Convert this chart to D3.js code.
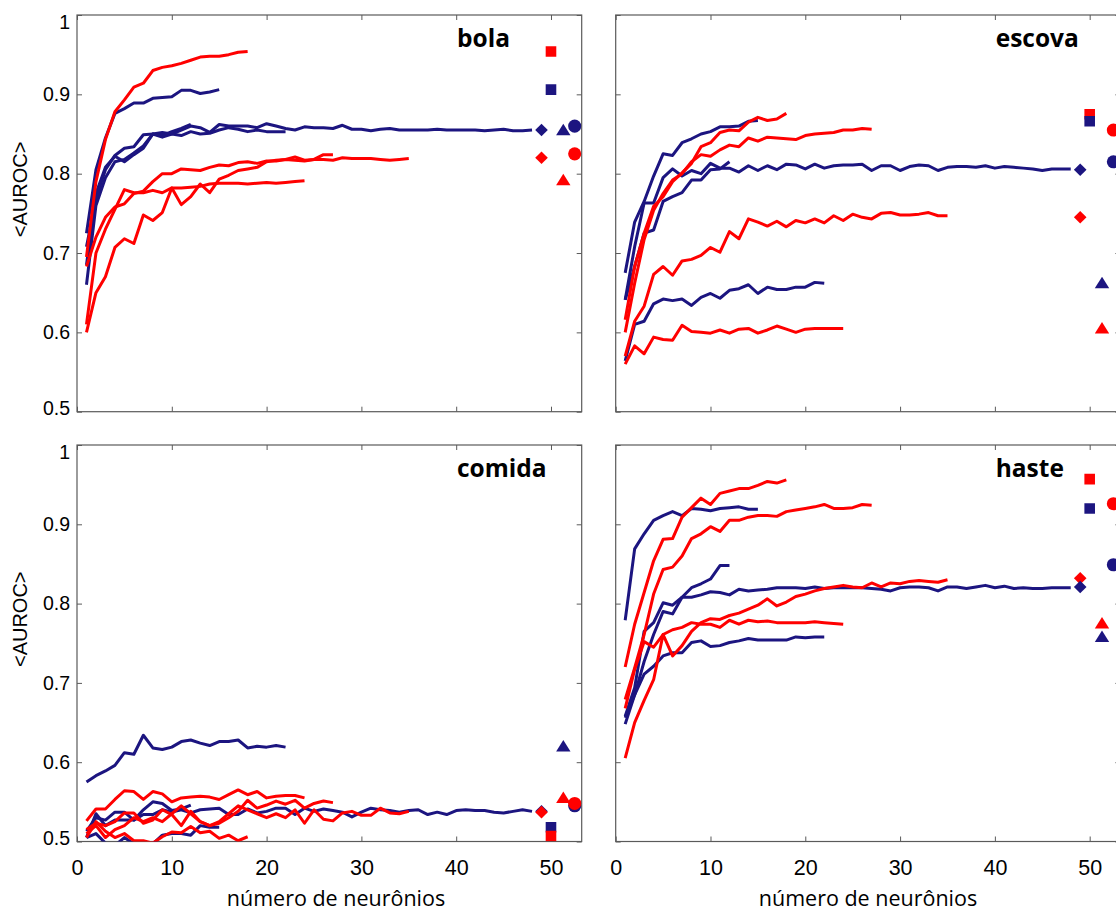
<!DOCTYPE html>
<html>
<head>
<meta charset="utf-8">
<script src="https://cdn.jsdelivr.net/npm/d3@7"></script>
<style>
  html, body { margin: 0; padding: 0; background: #ffffff; }
  svg { display: block; }
</style>
</head>
<body>
<svg id="chart" width="1116" height="913"></svg>
<script>
// ---------------- DATA ----------------
const panelNames = ["bola", "escova", "comida", "haste"];
const xTicks = [0, 10, 20, 30, 40, 50];
const yTicks = [0.5, 0.6, 0.7, 0.8, 0.9, 1];
const xTitle = "número de neurônios";
const yTitle = "<AUROC>";

// marker order: diamond, square, triangle, circle
const markerShapes = ["diamond", "square", "triangle", "circle"];
const markerX = [49, 50, 51.3, 52.5];

// bola
const bolaBlue12 = [0.708, 0.768, 0.805, 0.823, 0.832, 0.834, 0.849, 0.850, 0.848, 0.853, 0.857, 0.862];
const bolaBlue15 = [0.725, 0.805, 0.845, 0.876, 0.882, 0.889, 0.889, 0.895, 0.896, 0.897, 0.905, 0.905, 0.901, 0.903, 0.906];
const bolaBlue22 = [0.660, 0.760, 0.795, 0.815, 0.818, 0.826, 0.835, 0.850, 0.852, 0.850, 0.848, 0.853, 0.850, 0.851, 0.855, 0.858, 0.856, 0.853, 0.855, 0.853, 0.853, 0.853];
const bolaBlue48 = [0.685, 0.775, 0.808, 0.822, 0.815, 0.824, 0.832, 0.850, 0.846, 0.850, 0.855, 0.860, 0.858, 0.852, 0.862, 0.860, 0.860, 0.860, 0.858, 0.863, 0.860, 0.857, 0.855, 0.859, 0.858, 0.858, 0.857, 0.861, 0.856, 0.856, 0.854, 0.856, 0.857, 0.855, 0.855, 0.855, 0.855, 0.856, 0.855, 0.855, 0.855, 0.855, 0.854, 0.855, 0.856, 0.854, 0.854, 0.855];
const bolaRed18 = [0.695, 0.790, 0.843, 0.878, 0.893, 0.909, 0.914, 0.930, 0.934, 0.936, 0.939, 0.943, 0.947, 0.948, 0.948, 0.950, 0.953, 0.954];
const bolaRed24 = [0.610, 0.700, 0.730, 0.755, 0.780, 0.776, 0.776, 0.779, 0.776, 0.782, 0.782, 0.783, 0.784, 0.787, 0.788, 0.788, 0.788, 0.787, 0.788, 0.789, 0.788, 0.789, 0.790, 0.791];
const bolaRed27 = [0.600, 0.650, 0.670, 0.707, 0.718, 0.712, 0.748, 0.741, 0.751, 0.782, 0.761, 0.771, 0.787, 0.776, 0.793, 0.798, 0.804, 0.806, 0.808, 0.815, 0.817, 0.818, 0.821, 0.817, 0.818, 0.824, 0.824];
const bolaRed35 = [0.683, 0.720, 0.745, 0.758, 0.762, 0.775, 0.778, 0.790, 0.800, 0.800, 0.806, 0.805, 0.804, 0.808, 0.811, 0.810, 0.814, 0.815, 0.813, 0.816, 0.816, 0.818, 0.817, 0.816, 0.818, 0.818, 0.817, 0.820, 0.819, 0.819, 0.819, 0.818, 0.817, 0.818, 0.819];
const bolaBlueMarks = [0.855, 0.906, 0.855, 0.860];
const bolaRedMarks = [0.820, 0.954, 0.792, 0.825];

// escova
const escovaBlue12 = [0.641, 0.683, 0.725, 0.729, 0.765, 0.771, 0.776, 0.792, 0.792, 0.805, 0.806, 0.815];
const escovaBlue15 = [0.675, 0.739, 0.765, 0.797, 0.825, 0.823, 0.839, 0.844, 0.850, 0.853, 0.859, 0.859, 0.860, 0.866, 0.867];
const escovaBlue22 = [0.564, 0.610, 0.614, 0.636, 0.642, 0.640, 0.642, 0.634, 0.644, 0.649, 0.643, 0.653, 0.655, 0.660, 0.649, 0.657, 0.654, 0.654, 0.657, 0.657, 0.663, 0.662];
const escovaBlue48 = [0.641, 0.708, 0.763, 0.763, 0.795, 0.806, 0.797, 0.804, 0.800, 0.813, 0.807, 0.807, 0.802, 0.810, 0.804, 0.810, 0.805, 0.812, 0.811, 0.806, 0.812, 0.807, 0.810, 0.811, 0.811, 0.812, 0.804, 0.810, 0.810, 0.804, 0.809, 0.811, 0.810, 0.804, 0.808, 0.809, 0.809, 0.808, 0.810, 0.807, 0.809, 0.808, 0.807, 0.806, 0.804, 0.806, 0.806, 0.806];
const escovaRed18 = [0.616, 0.683, 0.725, 0.759, 0.771, 0.790, 0.801, 0.813, 0.834, 0.839, 0.852, 0.855, 0.854, 0.865, 0.871, 0.867, 0.869, 0.876];
const escovaRed24 = [0.560, 0.583, 0.573, 0.594, 0.591, 0.590, 0.609, 0.601, 0.600, 0.599, 0.603, 0.599, 0.604, 0.605, 0.599, 0.603, 0.608, 0.604, 0.600, 0.604, 0.605, 0.605, 0.605, 0.605];
const escovaRed27 = [0.600, 0.662, 0.717, 0.754, 0.775, 0.792, 0.800, 0.815, 0.824, 0.822, 0.830, 0.836, 0.834, 0.845, 0.841, 0.846, 0.845, 0.844, 0.843, 0.848, 0.850, 0.851, 0.852, 0.855, 0.855, 0.857, 0.856];
const escovaRed35 = [0.570, 0.614, 0.633, 0.673, 0.683, 0.672, 0.690, 0.692, 0.697, 0.707, 0.701, 0.727, 0.718, 0.743, 0.739, 0.734, 0.740, 0.733, 0.741, 0.738, 0.743, 0.738, 0.747, 0.741, 0.749, 0.745, 0.743, 0.750, 0.751, 0.748, 0.748, 0.749, 0.751, 0.747, 0.747];
const escovaBlueMarks = [0.805, 0.866, 0.662, 0.815];
const escovaRedMarks = [0.745, 0.875, 0.605, 0.855];

// comida
const comidaBlue12 = [0.513, 0.530, 0.527, 0.537, 0.537, 0.527, 0.540, 0.550, 0.548, 0.539, 0.541, 0.546];
const comidaBlue15 = [0.505, 0.510, 0.498, 0.495, 0.505, 0.497, 0.495, 0.497, 0.508, 0.510, 0.510, 0.508, 0.520, 0.518, 0.518];
const comidaBlue22 = [0.575, 0.583, 0.589, 0.596, 0.612, 0.610, 0.634, 0.618, 0.616, 0.619, 0.626, 0.628, 0.624, 0.621, 0.626, 0.626, 0.628, 0.618, 0.620, 0.619, 0.621, 0.619];
const comidaBlue48 = [0.505, 0.535, 0.520, 0.527, 0.527, 0.527, 0.534, 0.534, 0.540, 0.537, 0.540, 0.536, 0.540, 0.541, 0.542, 0.534, 0.534, 0.541, 0.536, 0.538, 0.542, 0.542, 0.534, 0.542, 0.538, 0.541, 0.539, 0.537, 0.531, 0.537, 0.542, 0.540, 0.539, 0.537, 0.539, 0.540, 0.534, 0.537, 0.534, 0.539, 0.540, 0.539, 0.539, 0.537, 0.536, 0.538, 0.540, 0.538];
const comidaRed18 = [0.505, 0.525, 0.513, 0.505, 0.510, 0.501, 0.501, 0.498, 0.506, 0.512, 0.511, 0.519, 0.511, 0.513, 0.504, 0.508, 0.501, 0.506];
const comidaRed24 = [0.526, 0.541, 0.541, 0.553, 0.564, 0.563, 0.553, 0.563, 0.560, 0.550, 0.555, 0.556, 0.557, 0.556, 0.553, 0.559, 0.565, 0.559, 0.563, 0.555, 0.557, 0.558, 0.558, 0.555];
const comidaRed27 = [0.515, 0.523, 0.520, 0.525, 0.536, 0.536, 0.523, 0.527, 0.540, 0.534, 0.520, 0.538, 0.525, 0.520, 0.523, 0.530, 0.538, 0.552, 0.542, 0.546, 0.551, 0.547, 0.552, 0.542, 0.548, 0.551, 0.549];
const comidaRed35 = [0.510, 0.520, 0.505, 0.515, 0.520, 0.530, 0.525, 0.530, 0.525, 0.535, 0.545, 0.535, 0.525, 0.520, 0.525, 0.535, 0.545, 0.540, 0.535, 0.530, 0.535, 0.530, 0.540, 0.523, 0.540, 0.528, 0.526, 0.536, 0.538, 0.533, 0.533, 0.542, 0.536, 0.535, 0.538];
const comidaBlueMarks = [0.538, 0.518, 0.620, 0.545];
const comidaRedMarks = [0.537, 0.507, 0.555, 0.548];

// haste
const hasteBlue12 = [0.658, 0.694, 0.765, 0.776, 0.801, 0.798, 0.808, 0.820, 0.825, 0.831, 0.848, 0.848];
const hasteBlue15 = [0.779, 0.869, 0.888, 0.905, 0.911, 0.916, 0.911, 0.920, 0.919, 0.917, 0.920, 0.921, 0.922, 0.919, 0.919];
const hasteBlue22 = [0.656, 0.685, 0.711, 0.721, 0.734, 0.738, 0.738, 0.751, 0.753, 0.746, 0.747, 0.751, 0.753, 0.756, 0.754, 0.754, 0.754, 0.754, 0.758, 0.757, 0.758, 0.758];
const hasteBlue48 = [0.648, 0.685, 0.727, 0.761, 0.790, 0.787, 0.808, 0.808, 0.811, 0.815, 0.814, 0.811, 0.818, 0.816, 0.817, 0.818, 0.820, 0.820, 0.820, 0.819, 0.821, 0.819, 0.820, 0.820, 0.820, 0.820, 0.819, 0.818, 0.816, 0.820, 0.821, 0.821, 0.820, 0.816, 0.821, 0.821, 0.819, 0.821, 0.823, 0.820, 0.822, 0.819, 0.820, 0.819, 0.819, 0.820, 0.820, 0.820];
const hasteRed18 = [0.720, 0.774, 0.814, 0.854, 0.881, 0.882, 0.909, 0.921, 0.933, 0.925, 0.939, 0.942, 0.945, 0.945, 0.949, 0.954, 0.952, 0.956];
const hasteRed24 = [0.668, 0.717, 0.752, 0.745, 0.761, 0.767, 0.770, 0.776, 0.774, 0.774, 0.770, 0.779, 0.774, 0.779, 0.777, 0.778, 0.776, 0.776, 0.776, 0.776, 0.777, 0.776, 0.775, 0.774];
const hasteRed27 = [0.679, 0.719, 0.761, 0.812, 0.843, 0.846, 0.860, 0.882, 0.888, 0.897, 0.891, 0.905, 0.905, 0.909, 0.911, 0.911, 0.910, 0.916, 0.918, 0.920, 0.922, 0.925, 0.920, 0.920, 0.921, 0.925, 0.924];
const hasteRed35 = [0.605, 0.650, 0.678, 0.704, 0.761, 0.734, 0.747, 0.765, 0.776, 0.781, 0.780, 0.785, 0.788, 0.793, 0.798, 0.806, 0.797, 0.802, 0.809, 0.812, 0.816, 0.819, 0.821, 0.823, 0.821, 0.820, 0.826, 0.821, 0.826, 0.825, 0.828, 0.829, 0.828, 0.827, 0.830];
const hasteBlueMarks = [0.821, 0.920, 0.758, 0.849];
const hasteRedMarks = [0.832, 0.957, 0.775, 0.926];

// ---------------- BUILD ----------------
const BLUE = "#1c1580", RED = "#ff0000", AXIS = "#5a5a5a";
const panelData = [
  {name: "bola", blue: [bolaBlue48, bolaBlue22, bolaBlue12, bolaBlue15], red: [bolaRed35, bolaRed24, bolaRed27, bolaRed18], bm: bolaBlueMarks, rm: bolaRedMarks, front: "blue"},
  {name: "escova", blue: [escovaBlue48, escovaBlue22, escovaBlue12, escovaBlue15], red: [escovaRed35, escovaRed24, escovaRed27, escovaRed18], bm: escovaBlueMarks, rm: escovaRedMarks, front: "blue"},
  {name: "comida", blue: [comidaBlue48, comidaBlue22, comidaBlue12, comidaBlue15], red: [comidaRed35, comidaRed24, comidaRed27, comidaRed18], bm: comidaBlueMarks, rm: comidaRedMarks, front: "red"},
  {name: "haste", blue: [hasteBlue48, hasteBlue22, hasteBlue12, hasteBlue15], red: [hasteRed35, hasteRed24, hasteRed27, hasteRed18], bm: hasteBlueMarks, rm: hasteRedMarks, front: "blue"}
];

const layout = [
  {x0: 77, x1: 581.7, y0: 15, y1: 411.7, left: true, bottom: false},
  {x0: 615.7, x1: 1120.4, y0: 15, y1: 411.7, left: false, bottom: false},
  {x0: 77, x1: 581.7, y0: 445, y1: 841.5, left: true, bottom: true},
  {x0: 615.7, x1: 1120.4, y0: 445, y1: 841.5, left: false, bottom: true}
];
const xMax = 53.24;

const svg = d3.select("#chart");
svg.append("rect").attr("width", 1116).attr("height", 913).attr("fill", "#fff");
const defs = svg.append("defs");

function markerPath(shape) {
  if (shape === "square") return "M-5.3,-5.3h10.6v10.6h-10.6Z";
  if (shape === "diamond") return "M0,-6.3L6.3,0L0,6.3L-6.3,0Z";
  if (shape === "triangle") return "M0,-6.3L7.2,5.2L-7.2,5.2Z";
  return d3.symbol(d3.symbolCircle, 135)();
}

panelData.forEach((p, i) => {
  const L = layout[i];
  const x = d3.scaleLinear().domain([0, xMax]).range([L.x0, L.x1]);
  const y = d3.scaleLinear().domain([0.5, 1]).range([L.y1, L.y0]);
  const g = svg.append("g");

  const clipId = "clip" + i;
  defs.append("clipPath").attr("id", clipId)
    .append("rect").attr("x", L.x0).attr("y", L.y0)
    .attr("width", L.x1 - L.x0).attr("height", L.y1 - L.y0);

  // axes
  const axB = d3.axisBottom(x).tickValues(xTicks).tickSizeInner(-5).tickSizeOuter(0).tickPadding(18.5)
    .tickFormat(L.bottom ? d3.format("d") : () => "");
  const axT = d3.axisTop(x).tickValues(xTicks).tickSizeInner(-5).tickSizeOuter(0).tickFormat(() => "");
  const axL = d3.axisLeft(y).tickValues(yTicks).tickSizeInner(-5).tickSizeOuter(0).tickPadding(7)
    .tickFormat(L.left ? (d => d === 1 ? "1" : d3.format(".1f")(d)) : () => "");
  const axR = d3.axisRight(y).tickValues(yTicks).tickSizeInner(-5).tickSizeOuter(0).tickFormat(() => "");

  const styleAxis = sel => {
    sel.select(".domain").remove();
    sel.selectAll(".tick line").attr("stroke", AXIS).attr("stroke-width", 1);
    sel.selectAll(".tick text").attr("fill", "#000").attr("font-family", "'Liberation Sans', Arial, sans-serif");
  };
  const gB = g.append("g").attr("transform", `translate(0,${L.y1})`).call(axB).call(styleAxis);
  gB.selectAll(".tick text").attr("font-size", 21.5);
  g.append("g").attr("transform", `translate(0,${L.y0})`).call(axT).call(styleAxis);
  const gL = g.append("g").attr("transform", `translate(${L.x0},0)`).call(axL).call(styleAxis);
  gL.selectAll(".tick text").attr("font-size", 19.5)
    .attr("dy", "0.32em")
    .attr("transform", d => d === 1 ? "translate(0,7)" : (d === 0.5 ? "translate(0,-3)" : null));
  g.append("g").attr("transform", `translate(${L.x1},0)`).call(axR).call(styleAxis);

  g.append("rect").attr("x", L.x0).attr("y", L.y0)
    .attr("width", L.x1 - L.x0).attr("height", L.y1 - L.y0)
    .attr("fill", "none").attr("stroke", AXIS).attr("stroke-width", 1.2);

  // lines
  const line = d3.line().x((d, k) => x(k + 1)).y(d => y(d));
  const plot = g.append("g").attr("clip-path", `url(#${clipId})`);
  const drawLines = (arrs, color) => arrs.forEach(a => {
    plot.append("path").attr("d", line(a)).attr("fill", "none")
      .attr("stroke", color).attr("stroke-width", 3)
      .attr("stroke-linejoin", "round").attr("stroke-linecap", "butt");
  });
  drawLines(p.blue, BLUE);
  drawLines(p.red, RED);

  // markers
  const drawMarks = (vals, color) => vals.forEach((v, k) => {
    plot.append("path").attr("d", markerPath(markerShapes[k]))
      .attr("transform", `translate(${x(markerX[k])},${y(v)})`)
      .attr("fill", color);
  });
  if (p.front === "blue") { drawMarks(p.rm, RED); drawMarks(p.bm, BLUE); }
  else { drawMarks(p.bm, BLUE); drawMarks(p.rm, RED); }

  // panel title
  g.append("text").attr("x", L.x0 + 380).attr("y", L.y0 + 31.7)
    .attr("font-family", "'Open Sans', sans-serif").attr("font-weight", "bold")
    .attr("font-size", 24.5).attr("fill", "#000").text(p.name);

  // y label
  if (L.left) {
    const cy = (L.y0 + L.y1) / 2 - 24;
    g.append("text").attr("transform", `translate(27,${cy}) rotate(-90)`)
      .attr("text-anchor", "middle").attr("font-family", "'Liberation Sans', Arial, sans-serif")
      .attr("font-size", 20).attr("fill", "#000").text(yTitle);
  }
  // x label
  if (L.bottom) {
    const cx = i === 2 ? 336 : 868;
    g.append("text").attr("x", cx).attr("y", 906).attr("text-anchor", "middle")
      .attr("font-family", "'Open Sans', sans-serif").attr("font-size", 21.5)
      .attr("fill", "#000").text(xTitle);
  }
});
</script>
</body>
</html>
